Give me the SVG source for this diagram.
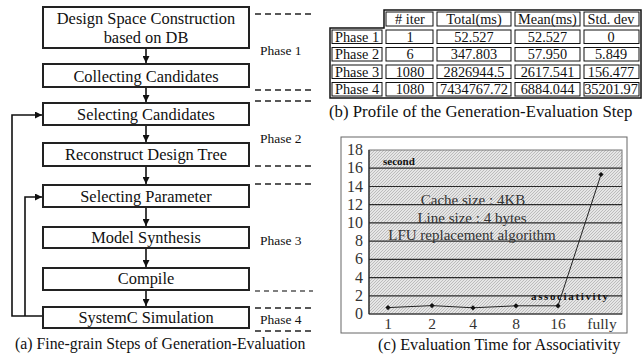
<svg xmlns="http://www.w3.org/2000/svg" width="642" height="361" viewBox="0 0 642 361">
  <style>
    text { font-family: "Liberation Serif", "Times New Roman", serif; fill: #111; }
    .box { fill: #fff; stroke: #222; stroke-width: 2; }
    .lbl { font-size: 16.4px; text-anchor: middle; }
    .phase { font-size: 13.5px; }
    .dash { stroke: #222; stroke-width: 1.6; stroke-dasharray: 6 4; fill: none; }
    .dash2 { stroke: #555; stroke-width: 1.4; stroke-dasharray: 5 4; fill: none; }
    .conn { stroke: #111; stroke-width: 1.6; fill: none; }
    .cell { fill: none; stroke: #111; stroke-width: 1; }
    .tt { font-size: 14.3px; text-anchor: middle; }
    .grid { stroke: #2a2a2a; stroke-width: 1.2; }
    .ylab { font-size: 16px; text-anchor: end; fill: #333; }
    .xlab { font-size: 15.5px; text-anchor: middle; fill: #333; }
    .note { font-size: 15px; text-anchor: middle; fill: #333; }
    .tiny { font-size: 11px; font-weight: bold; }
  </style>
  <defs>
    <marker id="ah" viewBox="0 0 8 8" refX="8" refY="4" markerWidth="7" markerHeight="7" markerUnits="userSpaceOnUse" orient="auto">
      <path d="M0,0 L8,4 L0,8 Z" fill="#111"/>
    </marker>
    <pattern id="hatch" width="3" height="3" patternUnits="userSpaceOnUse">
      <rect width="3" height="3" fill="#e6e6e6"/>
      <path d="M0,3 L3,0" stroke="#b8b8b8" stroke-width="0.9"/>
    </pattern>
  </defs>

  <!-- (a) step flow -->
  <g id="n-design-space">
    <rect class="box" x="43" y="7" width="206" height="41"/>
    <text class="lbl" x="146" y="24">Design Space Construction</text>
    <text class="lbl" x="146" y="43">based on DB</text>
  </g>
  <g id="n-collecting">
    <rect class="box" x="43" y="64" width="206" height="23"/>
    <text class="lbl" x="146" y="82">Collecting Candidates</text>
  </g>
  <g id="n-selecting-cand">
    <rect class="box" x="43" y="103" width="206" height="22"/>
    <text class="lbl" x="146" y="120">Selecting Candidates</text>
  </g>
  <g id="n-reconstruct">
    <rect class="box" x="43" y="143" width="206" height="23"/>
    <text class="lbl" x="146" y="160">Reconstruct Design Tree</text>
  </g>
  <g id="n-selecting-param">
    <rect class="box" x="43" y="185" width="206" height="22"/>
    <text class="lbl" x="146" y="202">Selecting Parameter</text>
  </g>
  <g id="n-model-synthesis">
    <rect class="box" x="43" y="227" width="206" height="21"/>
    <text class="lbl" x="146" y="243">Model Synthesis</text>
  </g>
  <g id="n-compile">
    <rect class="box" x="43" y="268" width="206" height="22"/>
    <text class="lbl" x="146" y="284">Compile</text>
  </g>
  <g id="n-systemc">
    <rect class="box" x="43" y="307" width="206" height="21"/>
    <text class="lbl" x="146" y="323">SystemC Simulation</text>
  </g>

  <g id="connectors">
    <line class="conn" x1="146" y1="49" x2="146" y2="63" marker-end="url(#ah)"/>
    <line class="conn" x1="146" y1="88" x2="146" y2="102" marker-end="url(#ah)"/>
    <line class="conn" x1="146" y1="126" x2="146" y2="142" marker-end="url(#ah)"/>
    <line class="conn" x1="146" y1="167" x2="146" y2="184" marker-end="url(#ah)"/>
    <line class="conn" x1="146" y1="208" x2="146" y2="226" marker-end="url(#ah)"/>
    <line class="conn" x1="146" y1="249" x2="146" y2="267" marker-end="url(#ah)"/>
    <line class="conn" x1="146" y1="291" x2="146" y2="306" marker-end="url(#ah)"/>
    <polyline class="conn" points="42,316 12,316 12,115 42,115" marker-end="url(#ah)"/>
    <polyline class="conn" points="25,316 25,197 42,197" marker-end="url(#ah)"/>
  </g>

  <g id="phases">
    <line class="dash" x1="255" y1="14" x2="313" y2="14"/>
    <line class="dash" x1="255" y1="90" x2="313" y2="90"/>
    <line class="dash" x1="255" y1="101" x2="313" y2="101"/>
    <line class="dash" x1="255" y1="166" x2="313" y2="166"/>
    <line class="dash" x1="255" y1="184" x2="313" y2="184"/>
    <line class="dash2" x1="255" y1="291" x2="313" y2="291"/>
    <line class="dash" x1="255" y1="308" x2="313" y2="308"/>
    <line class="dash" x1="255" y1="331" x2="313" y2="331"/>
    <text class="phase" x="260" y="55">Phase 1</text>
    <text class="phase" x="260" y="143">Phase 2</text>
    <text class="phase" x="260" y="245">Phase 3</text>
    <text class="phase" x="260" y="324">Phase 4</text>
  </g>
  <text x="15" y="349" font-size="15.8">(a) Fine-grain Steps of Generation-Evaluation</text>

  <!-- (b) profile table -->
  <g id="profile-table">
    <path d="M384,10 H641 V98 H330 V28 H384 Z" fill="none" stroke="#111" stroke-width="1.5"/>
    <!-- header row -->
    <rect class="cell" x="386" y="12" width="47" height="14"/>
    <rect class="cell" x="437" y="12" width="74" height="14"/>
    <rect class="cell" x="515" y="12" width="65" height="14"/>
    <rect class="cell" x="584" y="12" width="55" height="14"/>
    <text class="tt" x="410" y="24"># iter</text>
    <text class="tt" x="474" y="24">Total(ms)</text>
    <text class="tt" x="547.5" y="24">Mean(ms)</text>
    <text class="tt" x="611" y="24">Std. dev</text>
    <!-- body rows -->
    <g>
      <rect class="cell" x="332" y="30" width="50" height="13.5"/>
      <rect class="cell" x="386" y="30" width="47" height="13.5"/>
      <rect class="cell" x="437" y="30" width="74" height="13.5"/>
      <rect class="cell" x="515" y="30" width="65" height="13.5"/>
      <rect class="cell" x="584" y="30" width="55" height="13.5"/>
      <text class="tt" x="357" y="41.5">Phase 1</text>
      <text class="tt" x="410" y="41.5">1</text>
      <text class="tt" x="474" y="41.5">52.527</text>
      <text class="tt" x="547.5" y="41.5">52.527</text>
      <text class="tt" x="611" y="41.5">0</text>
    </g>
    <g>
      <rect class="cell" x="332" y="47.5" width="50" height="13.5"/>
      <rect class="cell" x="386" y="47.5" width="47" height="13.5"/>
      <rect class="cell" x="437" y="47.5" width="74" height="13.5"/>
      <rect class="cell" x="515" y="47.5" width="65" height="13.5"/>
      <rect class="cell" x="584" y="47.5" width="55" height="13.5"/>
      <text class="tt" x="357" y="59">Phase 2</text>
      <text class="tt" x="410" y="59">6</text>
      <text class="tt" x="474" y="59">347.803</text>
      <text class="tt" x="547.5" y="59">57.950</text>
      <text class="tt" x="611" y="59">5.849</text>
    </g>
    <g>
      <rect class="cell" x="332" y="65" width="50" height="13.5"/>
      <rect class="cell" x="386" y="65" width="47" height="13.5"/>
      <rect class="cell" x="437" y="65" width="74" height="13.5"/>
      <rect class="cell" x="515" y="65" width="65" height="13.5"/>
      <rect class="cell" x="584" y="65" width="55" height="13.5"/>
      <text class="tt" x="357" y="76.5">Phase 3</text>
      <text class="tt" x="410" y="76.5">1080</text>
      <text class="tt" x="474" y="76.5">2826944.5</text>
      <text class="tt" x="547.5" y="76.5">2617.541</text>
      <text class="tt" x="611" y="76.5">156.477</text>
    </g>
    <g>
      <rect class="cell" x="332" y="82.5" width="50" height="13.5"/>
      <rect class="cell" x="386" y="82.5" width="47" height="13.5"/>
      <rect class="cell" x="437" y="82.5" width="74" height="13.5"/>
      <rect class="cell" x="515" y="82.5" width="65" height="13.5"/>
      <rect class="cell" x="584" y="82.5" width="55" height="13.5"/>
      <text class="tt" x="357" y="94">Phase 4</text>
      <text class="tt" x="410" y="94">1080</text>
      <text class="tt" x="474" y="94">7434767.72</text>
      <text class="tt" x="547.5" y="94">6884.044</text>
      <text class="tt" x="611" y="94">35201.97</text>
    </g>
  </g>
  <text x="329" y="117" font-size="16.8">(b) Profile of the Generation-Evaluation Step</text>

  <!-- (c) associativity chart -->
  <g id="assoc-chart">
    <rect x="341" y="137" width="286" height="196" fill="#fff" stroke="#666" stroke-width="1"/>
    <rect x="369" y="150" width="253" height="164" fill="url(#hatch)" stroke="#777" stroke-width="1"/>
    <g class="grid">
      <line x1="369" y1="168.2" x2="622" y2="168.2"/>
      <line x1="369" y1="186.5" x2="622" y2="186.5"/>
      <line x1="369" y1="204.7" x2="622" y2="204.7"/>
      <line x1="369" y1="222.9" x2="622" y2="222.9"/>
      <line x1="369" y1="241.1" x2="622" y2="241.1"/>
      <line x1="369" y1="259.3" x2="622" y2="259.3"/>
      <line x1="369" y1="277.6" x2="622" y2="277.6"/>
      <line x1="369" y1="295.8" x2="622" y2="295.8"/>
    </g>
    <line x1="369" y1="150" x2="369" y2="314" stroke="#222" stroke-width="1.2"/>
    <line x1="369" y1="314" x2="622" y2="314" stroke="#222" stroke-width="1.2"/>
    <g>
      <text class="ylab" x="363" y="155">18</text>
      <text class="ylab" x="363" y="173.2">16</text>
      <text class="ylab" x="363" y="191.5">14</text>
      <text class="ylab" x="363" y="209.7">12</text>
      <text class="ylab" x="363" y="227.9">10</text>
      <text class="ylab" x="363" y="246.1">8</text>
      <text class="ylab" x="363" y="264.3">6</text>
      <text class="ylab" x="363" y="282.6">4</text>
      <text class="ylab" x="363" y="300.8">2</text>
      <text class="ylab" x="363" y="319">0</text>
    </g>
    <g>
      <text class="xlab" x="388" y="329">1</text>
      <text class="xlab" x="432" y="329">2</text>
      <text class="xlab" x="473" y="329">4</text>
      <text class="xlab" x="516" y="329">8</text>
      <text class="xlab" x="558" y="329">16</text>
      <text class="xlab" x="602" y="329">fully</text>
    </g>
    <text class="tiny" x="383" y="165">second</text>
    <text class="tiny" x="531" y="300" textLength="77">associativity</text>
    <text class="note" x="473" y="205">Cache size : 4KB</text>
    <text class="note" x="472" y="223">Line size : 4 bytes</text>
    <text class="note" x="472" y="240">LFU replacement algorithm</text>
    <polyline points="388,307.6 432,305.6 473,307.8 516,305.8 558,305.8 601,174.5" fill="none" stroke="#222" stroke-width="1"/>
    <g fill="#111">
      <path d="M388,305 l2.6,2.6 l-2.6,2.6 l-2.6,-2.6 Z"/>
      <path d="M432,303 l2.6,2.6 l-2.6,2.6 l-2.6,-2.6 Z"/>
      <path d="M473,305.2 l2.6,2.6 l-2.6,2.6 l-2.6,-2.6 Z"/>
      <path d="M516,303.2 l2.6,2.6 l-2.6,2.6 l-2.6,-2.6 Z"/>
      <path d="M558,303.2 l2.6,2.6 l-2.6,2.6 l-2.6,-2.6 Z"/>
      <path d="M601,171.9 l2.6,2.6 l-2.6,2.6 l-2.6,-2.6 Z"/>
    </g>
  </g>
  <text x="378" y="350" font-size="16.3">(c) Evaluation Time for Associativity</text>
</svg>
